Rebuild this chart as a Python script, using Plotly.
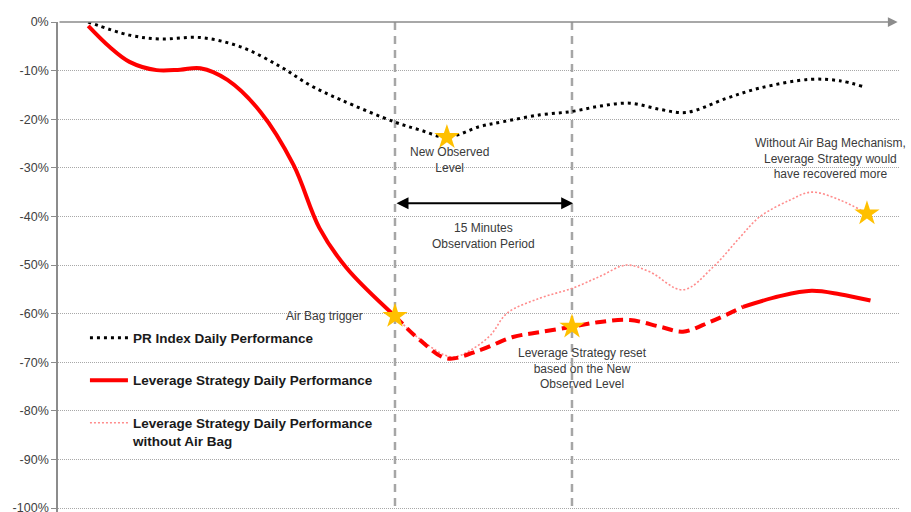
import plotly.graph_objects as go

# Time axis in minutes relative to the Air Bag trigger (0) and the reset (15)
pr_x = [-26, -22.5, -19.9, -16.5, -13.1, -9.7, -7.2, -4.6, 0, 2.1, 4.4, 7.2, 9.2,
        12.3, 15, 17.4, 19.9, 22.5, 24.7, 28.1, 30.9, 35.2, 37.7, 39.7]
pr_y = [0, -2.7, -3.5, -3.2, -5.1, -9.2, -13.0, -16.0, -20.6, -22.2, -23.7, -21.5, -20.5,
        -19.1, -18.4, -17.3, -16.7, -18.0, -18.6, -15.7, -13.6, -11.8, -12.1, -13.3]

lev_x = [-26, -24.2, -22.5, -20.2, -18.2, -16.5, -14.2, -11.4, -8.6, -6.4, -4.1, 0,
         2.1, 4.4, 7.2, 10.0, 12.3, 15, 17.4, 19.9, 22.5, 24.4, 26.7, 29.5,
         32.6, 35.3, 37.7, 40.3]
lev_y = [-0.8, -5.1, -8.2, -9.9, -9.8, -9.5, -11.9, -18.5, -29.4, -42.4, -50.6, -60.5,
         -65.4, -69.2, -67.5, -64.8, -63.8, -62.7, -61.7, -61.3, -62.7, -63.7, -61.7, -58.6,
         -56.4, -55.3, -56.0, -57.3]

nab_x = [0, 2.1, 4.8, 6.4, 8.1, 9.5, 12.3, 15.0, 17.4, 19.6, 21.6, 24.4, 27.0, 29.2,
         30.9, 33.5, 35.3, 37.7, 40.0]
nab_y = [-60.5, -65.2, -68.9, -67.5, -64.4, -59.9, -56.8, -54.8, -52.3, -50.0, -51.4, -55.1,
         -50.3, -44.4, -40.1, -36.6, -35.0, -36.6, -39.4]

star_x = [0, 4.4, 15, 40.0]
star_y = [-60.5, -23.7, -62.7, -39.4]

trigger_x = 0
reset_x = 15
solid_again_x = 29.5

y_ticks = list(range(0, -101, -10))
y_labels = [f"{v}%" for v in y_ticks]

X_MIN, X_MAX = -28.56, 42.8
Y_MIN, Y_MAX = -100.8, 0

RED = "#FF0000"
PINK = "#FF8C8C"
GOLD = "#FFC000"
GREY = "#A6A6A6"
TXT = "#3A3A3A"


def segment(xs, ys, lo, hi):
    pts = [(a, b) for a, b in zip(xs, ys) if lo <= a <= hi]
    return [p[0] for p in pts], [p[1] for p in pts]


fig = go.Figure()

# observation window boundaries
for vx in (trigger_x, reset_x):
    fig.add_trace(go.Scatter(
        x=[vx, vx], y=[Y_MAX, Y_MIN], mode="lines",
        line=dict(color=GREY, width=2.5, dash="8px,6px"),
        showlegend=False, hoverinfo="skip"))

fig.add_trace(go.Scatter(
    x=pr_x, y=pr_y, mode="lines", name="PR Index Daily Performance",
    line=dict(color="#000000", width=3, dash="3px,4px", shape="spline", smoothing=1.0),
    legendgroup="a", legendrank=1))

fig.add_trace(go.Scatter(
    x=nab_x, y=nab_y, mode="lines",
    name="Leverage Strategy Daily Performance<br>without Air Bag",
    line=dict(color=PINK, width=1.6, dash="2px,2px", shape="spline", smoothing=1.0),
    legendgroup="c", legendrank=3))

sx, sy = segment(lev_x, lev_y, -100, trigger_x)
fig.add_trace(go.Scatter(
    x=sx, y=sy, mode="lines", name="Leverage Strategy Daily Performance",
    line=dict(color=RED, width=4, shape="spline", smoothing=1.0),
    legendgroup="b", legendrank=2))

sx, sy = segment(lev_x, lev_y, trigger_x, solid_again_x)
fig.add_trace(go.Scatter(
    x=sx, y=sy, mode="lines", showlegend=False,
    line=dict(color=RED, width=4, dash="11px,6px", shape="spline", smoothing=1.0)))

sx, sy = segment(lev_x, lev_y, solid_again_x, 100)
fig.add_trace(go.Scatter(
    x=sx, y=sy, mode="lines", showlegend=False,
    line=dict(color=RED, width=4, shape="spline", smoothing=1.0)))

fig.add_trace(go.Scatter(
    x=star_x, y=star_y, mode="markers", showlegend=False, cliponaxis=False,
    marker=dict(symbol="star", size=19, color=GOLD, line=dict(width=0))))

ann_font = dict(family="Liberation Sans, Arial, sans-serif", size=12, color=TXT)
annotations = [
    # horizontal time axis with arrow
    dict(x=42.6, y=0, ax=X_MIN, ay=0, xref="x", yref="y", axref="x", ayref="y",
         text="", showarrow=True, arrowhead=2, arrowsize=1.3, arrowwidth=1.5,
         arrowcolor="#8C8C8C"),
    # observation period double arrow
    dict(x=reset_x + 0.1, y=-37.3, ax=trigger_x, ay=-37.3, xref="x", yref="y",
         axref="x", ayref="y", text="", showarrow=True, arrowhead=2,
         startarrowhead=2, arrowside="end+start", arrowsize=1.2, arrowwidth=2,
         arrowcolor="#000000"),
    dict(x=-2.5, y=-60.5, text="Air Bag trigger", showarrow=False,
         xanchor="right", yanchor="middle", font=ann_font),
    dict(x=4.66, y=-28.4, text="New Observed<br>Level", showarrow=False,
         xanchor="center", yanchor="middle", font=ann_font),
    dict(x=7.46, y=-44.0, text="15 Minutes<br>Observation Period", showarrow=False,
         xanchor="center", yanchor="middle", font=ann_font),
    dict(x=15.9, y=-71.2, text="Leverage Strategy reset<br>based on the New<br>Observed Level",
         showarrow=False, xanchor="center", yanchor="middle", font=ann_font),
    dict(x=36.9, y=-28.1,
         text="Without Air Bag Mechanism,<br>Leverage Strategy would<br>have recovered more",
         showarrow=False, xanchor="center", yanchor="middle", font=ann_font),
]

fig.update_layout(
    width=911, height=512,
    margin=dict(l=58, r=11, t=22, b=0),
    paper_bgcolor="white", plot_bgcolor="white",
    annotations=annotations,
    showlegend=True,
    legend=dict(
        x=0.032, y=0.387, xanchor="left", yanchor="top",
        bgcolor="rgba(0,0,0,0)", borderwidth=0, itemwidth=38,
        traceorder="grouped", tracegroupgap=22, valign="top",
        font=dict(family="Liberation Sans, Arial, sans-serif", size=13.5,
                  color="#1a1a1a", weight="bold"),
    ),
    xaxis=dict(range=[X_MIN, X_MAX], showgrid=False, zeroline=False,
               showticklabels=False, showline=False, ticks="", automargin=False),
    yaxis=dict(range=[Y_MIN, Y_MAX], tickvals=y_ticks, ticktext=y_labels,
               showgrid=True, gridcolor="#A8A8A8", griddash="1px,1px", gridwidth=1,
               zeroline=False, showline=True, linecolor="#8C8C8C", linewidth=1.5,
               ticks="outside", ticklen=5, tickcolor="#8C8C8C", ticklabeloverflow="allow",
               automargin=False,
               tickfont=dict(family="Liberation Sans, Arial, sans-serif", size=12.5,
                             color="#404040")),
)

fig.write_html("out.html")
